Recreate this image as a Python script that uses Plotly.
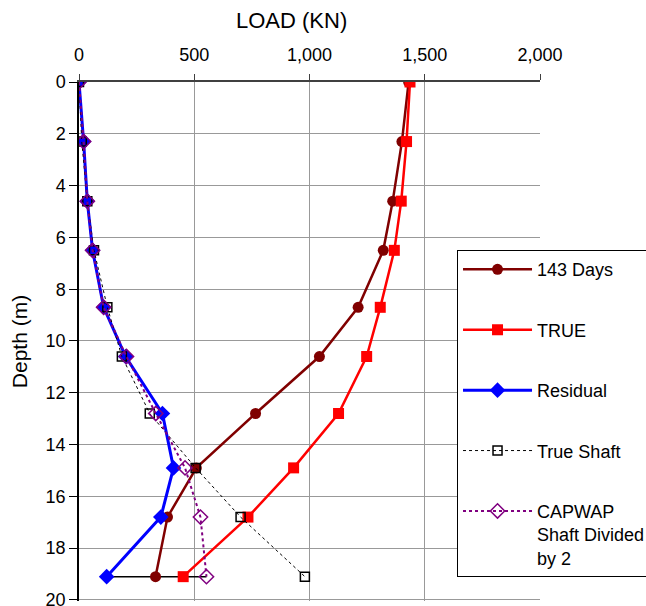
import plotly.graph_objects as go

depth = [0, 2.3, 4.6, 6.5, 8.7, 10.6, 12.8, 14.9, 16.8, 19.1]
days143 = [1430, 1401, 1361, 1320, 1211, 1043, 766, 509, 384, 332]
true_load = [1436, 1421, 1398, 1368, 1307, 1248, 1126, 931, 733, 452]
residual = [0, 20, 36, 59, 107, 202, 362, 410, 355, 120]
true_shaft = [0, 12, 36, 65, 123, 186, 307, 506, 701, 980]
capwap = [0, 20, 36, 59, 107, 206, 333, 460, 527, 553]
toe_line_x = [120, 553]
toe_line_y = [19.1, 19.1]
x_ticks = [0, 500, 1000, 1500, 2000]
y_ticks = [0, 2, 4, 6, 8, 10, 12, 14, 16, 18, 20]

FONT = "Liberation Sans, Arial, sans-serif"

fig = go.Figure()
fig.add_trace(go.Scatter(x=toe_line_x, y=toe_line_y, mode="lines",
                         line=dict(color="black", width=1.5), showlegend=False,
                         hoverinfo="skip"))
fig.add_trace(go.Scatter(x=days143, y=depth, name="143 Days", mode="lines+markers",
                         line=dict(color="#800000", width=2.5),
                         marker=dict(symbol="circle", size=11, color="#800000"),
                         legendgroup="a"))
fig.add_trace(go.Scatter(x=true_load, y=depth, name="TRUE", mode="lines+markers",
                         line=dict(color="#FF0000", width=2.5),
                         marker=dict(symbol="square", size=11, color="#FF0000"),
                         legendgroup="b"))
fig.add_trace(go.Scatter(x=residual, y=depth, name="Residual", mode="lines+markers",
                         line=dict(color="#0000FF", width=3),
                         marker=dict(symbol="diamond", size=12, color="#0000FF"),
                         legendgroup="c"))
fig.add_trace(go.Scatter(x=true_shaft, y=depth, name="True Shaft", mode="lines+markers",
                         line=dict(color="black", width=1, dash="dot"),
                         marker=dict(symbol="square-open", size=9, color="black",
                                     line=dict(width=1.5)),
                         legendgroup="d"))
fig.add_trace(go.Scatter(x=capwap, y=depth, name="CAPWAP<br>Shaft Divided<br>by 2",
                         mode="lines+markers",
                         line=dict(color="#800080", width=2, dash="dot"),
                         marker=dict(symbol="diamond-open", size=11, color="#800080",
                                     line=dict(width=1.5)),
                         legendgroup="e"))

fig.update_layout(
    width=646, height=606,
    margin=dict(l=79, r=106, t=82, b=5, autoexpand=False),
    paper_bgcolor="white", plot_bgcolor="white",
    font=dict(family=FONT, size=18, color="black"),
    xaxis=dict(side="top", range=[0, 2000], tickvals=x_ticks, tickformat=",",
               showgrid=True, gridcolor="#999999", gridwidth=1,
               showline=True, linecolor="#404040", linewidth=2,
               ticks="outside", ticklen=6, tickcolor="#404040",
               ticklabelstandoff=6, zeroline=False, automargin=False,
               tickfont=dict(size=18)),
    yaxis=dict(range=[20.04, 0], tickvals=y_ticks,
               showgrid=True, gridcolor="#999999", gridwidth=1,
               showline=True, linecolor="black", linewidth=1.5,
               ticks="outside", ticklen=8, tickcolor="black", zeroline=False,
               tickfont=dict(size=18), ticklabeloverflow="allow", automargin=False,
               title=dict(text="Depth (m)", font=dict(size=21), standoff=12)),
    legend=dict(x=0.82, y=0.676, xanchor="left", yanchor="top",
                bgcolor="white", bordercolor="black", borderwidth=1,
                font=dict(size=18), tracegroupgap=34, valign="top",
                itemwidth=69),
    annotations=[dict(text="LOAD (KN)", xref="paper", yref="paper",
                      x=0.462, y=(601 - 20) / 519, xanchor="center", yanchor="middle",
                      showarrow=False, font=dict(size=22))],
)

fig.write_html("out.html")
